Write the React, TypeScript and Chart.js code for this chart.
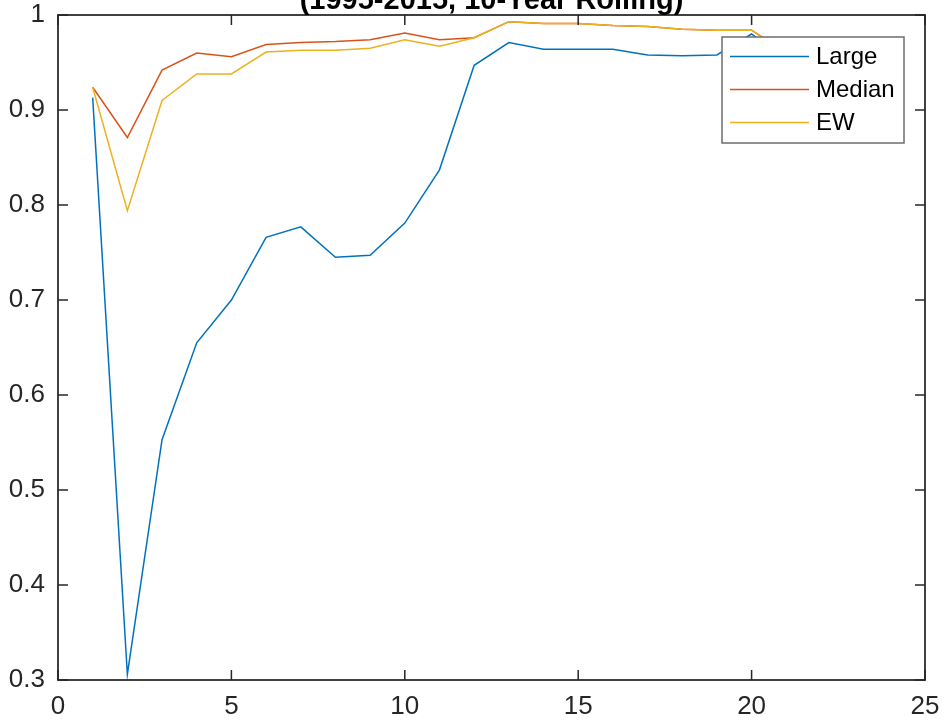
import React, { useEffect, useRef } from "react";
import { Chart, registerables } from "chart.js";

Chart.register(...registerables);

// ---- Data ----
const xValues = [1, 2, 3, 4, 5, 6, 7, 8, 9, 10, 11, 12, 13, 14, 15, 16, 17, 18, 19, 20, 21];
const largeValues = [0.913, 0.306, 0.553, 0.655, 0.7, 0.766, 0.777, 0.745, 0.747, 0.781, 0.837, 0.947, 0.971, 0.964, 0.964, 0.964, 0.958, 0.957, 0.958, 0.98, 0.953];
const medianValues = [0.924, 0.871, 0.942, 0.96, 0.956, 0.969, 0.971, 0.972, 0.974, 0.981, 0.974, 0.976, 0.993, 0.991, 0.991, 0.989, 0.988, 0.985, 0.984, 0.984, 0.96];
const ewValues = [0.924, 0.794, 0.91, 0.938, 0.938, 0.961, 0.963, 0.963, 0.965, 0.974, 0.967, 0.976, 0.993, 0.991, 0.991, 0.989, 0.988, 0.985, 0.984, 0.984, 0.96];
const seriesNames = ["Large", "Median", "EW"];
const xTicks = [0, 5, 10, 15, 20, 25];
const xTickLabels = ["0", "5", "10", "15", "20", "25"];
const yTicks = [0.3, 0.4, 0.5, 0.6, 0.7, 0.8, 0.9, 1];
const yTickLabels = ["0.3", "0.4", "0.5", "0.6", "0.7", "0.8", "0.9", "1"];
const titleText = "(1995-2015, 10-Year Rolling)";

const seriesColors = ["#0072BD", "#D95319", "#EDB120"];
const FONT = '"Liberation Sans", Arial, Helvetica, sans-serif';
const AXIS_COLOR = "#262626";

const toPoints = (ys: number[]) => ys.map((y, i) => ({ x: xValues[i], y }));

const axesPlugin = {
  id: "matlabAxes",
  afterDatasetsDraw(chart: any) {
    const { ctx, chartArea: a, scales } = chart;
    ctx.save();
    ctx.strokeStyle = AXIS_COLOR;
    ctx.lineWidth = 1.5;
    ctx.beginPath();
    const tl = 10;
    xTicks.forEach((v) => {
      const px = scales.x.getPixelForValue(v);
      ctx.moveTo(px, a.bottom);
      ctx.lineTo(px, a.bottom - tl);
      ctx.moveTo(px, a.top);
      ctx.lineTo(px, a.top + tl);
    });
    yTicks.forEach((v) => {
      const py = scales.y.getPixelForValue(v);
      ctx.moveTo(a.left, py);
      ctx.lineTo(a.left + tl, py);
      ctx.moveTo(a.right, py);
      ctx.lineTo(a.right - tl, py);
    });
    ctx.stroke();
    ctx.lineWidth = 1.75;
    ctx.strokeRect(a.left, a.top, a.right - a.left, a.bottom - a.top);
    ctx.restore();
  },
};

const legendTitlePlugin = {
  id: "matlabLegendTitle",
  afterDraw(chart: any) {
    const { ctx, chartArea: a } = chart;
    ctx.save();
    // Legend box inside the axes (north-east)
    const w = 182;
    const h = 106;
    const left = a.right - 21 - w;
    const top = a.top + 22;
    ctx.fillStyle = "#ffffff";
    ctx.fillRect(left, top, w, h);
    ctx.strokeStyle = "#6e6e6e";
    ctx.lineWidth = 1.5;
    ctx.strokeRect(left, top, w, h);
    ctx.font = `24px ${FONT}`;
    ctx.textBaseline = "middle";
    ctx.textAlign = "left";
    seriesNames.forEach((name, i) => {
      const y = top + 19.5 + i * 33;
      ctx.strokeStyle = seriesColors[i];
      ctx.lineWidth = 1.5;
      ctx.beginPath();
      ctx.moveTo(left + 8, y);
      ctx.lineTo(left + 87, y);
      ctx.stroke();
      ctx.fillStyle = "#000000";
      ctx.fillText(name, left + 94, y + 1);
    });
    // Title (partly outside the canvas, as in the reference)
    ctx.font = `bold 29px ${FONT}`;
    ctx.textAlign = "center";
    ctx.textBaseline = "alphabetic";
    ctx.fillStyle = "#000000";
    ctx.fillText(titleText, (a.left + a.right) / 2, 8.5);
    ctx.restore();
  },
};

export default function App() {
  const canvasRef = useRef<HTMLCanvasElement | null>(null);

  useEffect(() => {
    if (!canvasRef.current) return;
    const datasets = [largeValues, medianValues, ewValues].map((vals, i) => ({
      label: seriesNames[i],
      data: toPoints(vals),
      borderColor: seriesColors[i],
      backgroundColor: seriesColors[i],
      borderWidth: 1.5,
      pointRadius: 0,
      tension: 0,
      fill: false,
      order: 2 - i,
    }));
    const chart = new Chart(canvasRef.current, {
      type: "line",
      data: { datasets },
      options: {
        responsive: false,
        animation: false,
        devicePixelRatio: 1,
        layout: { padding: { top: 15, right: 20, left: 0, bottom: 0 } },
        plugins: {
          legend: { display: false },
          title: { display: false },
          tooltip: { enabled: false },
        },
        scales: {
          x: {
            type: "linear",
            min: 0,
            max: 25,
            grid: { display: false, drawTicks: false },
            border: { display: false },
            afterBuildTicks: (scale: any) => {
              scale.ticks = xTicks.map((v) => ({ value: v }));
            },
            afterFit: (scale: any) => {
              scale.height = 45;
              scale.paddingLeft = 0;
              scale.paddingRight = 0;
            },
            ticks: {
              padding: 11,
              color: AXIS_COLOR,
              font: { family: FONT, size: 26 },
              maxRotation: 0,
              autoSkip: false,
              callback: (_v: any, i: number) => xTickLabels[i],
            },
          },
          y: {
            type: "linear",
            min: 0.3,
            max: 1,
            grid: { display: false, drawTicks: false },
            border: { display: false },
            afterBuildTicks: (scale: any) => {
              scale.ticks = yTicks.map((v) => ({ value: v }));
            },
            afterFit: (scale: any) => {
              scale.width = 58;
              scale.paddingTop = 0;
              scale.paddingBottom = 0;
            },
            ticks: {
              padding: 13,
              color: AXIS_COLOR,
              font: { family: FONT, size: 26 },
              autoSkip: false,
              callback: (_v: any, i: number) => yTickLabels[i],
            },
          },
        },
      },
      plugins: [axesPlugin, legendTitlePlugin],
    } as any);
    return () => chart.destroy();
  }, []);

  return (
    <div style={{ position: "absolute", left: 0, top: 0, width: 945, height: 725, background: "#ffffff" }}>
      <canvas ref={canvasRef} width={945} height={725} style={{ display: "block", width: 945, height: 725 }} />
    </div>
  );
}
